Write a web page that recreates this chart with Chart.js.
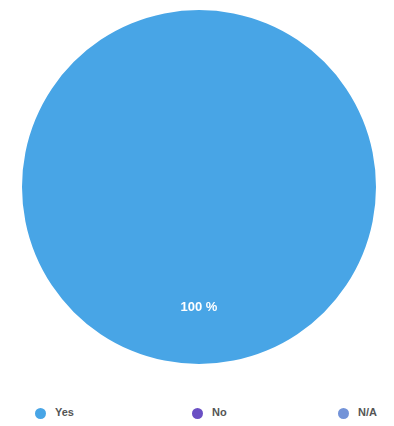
<!DOCTYPE html>
<html>
<head>
<meta charset="utf-8">
<script src="https://cdn.jsdelivr.net/npm/chart.js@4"></script>
<style>
  body { margin: 0; background: #fff; font-family: "Liberation Sans", Arial, sans-serif; }
  #wrap { position: relative; width: 394px; height: 380px; }
  #legend {
    display: grid;
    grid-template-columns: 157px 146px auto;
    padding-left: 35px;
    margin-top: 26px;
    font-size: 11px;
    font-weight: bold;
    color: #555;
  }
  #legend span.dot {
    display: inline-block; width: 11px; height: 11px; border-radius: 50%;
    vertical-align: middle; margin-right: 9px;
  }
  #legend div { line-height: 12px; }
</style>
</head>
<body>
<div id="wrap"><canvas id="pie"></canvas></div>
<div id="legend"></div>
<script>
'use strict'

// answers and how many people gave each one (percent)
let answers = ['Yes', 'No', 'N/A'];
let shares = [100, 0, 0];
let colours = ['#48a5e6', '#6a4fc4', '#7393d8'];

// writes the percent label inside each slice, about 2/3 of the way out
const sliceLabels = {
  id: 'sliceLabels',
  afterDatasetsDraw(chart) {
    let ctx = chart.ctx;
    let meta = chart.getDatasetMeta(0);
    meta.data.forEach(function (arc, i) {
      let v = chart.data.datasets[0].data[i];
      if (!v) return;
      let p = arc.getProps(['x', 'y', 'startAngle', 'endAngle', 'outerRadius']);
      let mid = (p.startAngle + p.endAngle) / 2;
      let r = p.outerRadius * 0.68;
      ctx.save();
      ctx.fillStyle = '#fff';
      ctx.font = 'bold 13px "Liberation Sans", Arial, sans-serif';
      ctx.textAlign = 'center';
      ctx.textBaseline = 'middle';
      ctx.fillText(v + ' %', p.x + Math.cos(mid) * r, p.y + Math.sin(mid) * r);
      ctx.restore();
    });
  }
};

let pieChart = new Chart(document.getElementById('pie'), {
  type: 'pie',
  data: {
    labels: answers,
    datasets: [{
      data: shares,
      backgroundColor: colours,
      borderWidth: 0
    }]
  },
  options: {
    responsive: true,
    maintainAspectRatio: false,
    animation: false,
    layout: { padding: { top: 10, left: 22, right: 18, bottom: 16 } },
    plugins: {
      legend: { display: false },
      tooltip: { enabled: false }
    }
  },
  plugins: [sliceLabels]
});

// legend under the chart, built from the same labels and colours
let legendBox = document.getElementById('legend');
answers.forEach(function (name, i) {
  let item = document.createElement('div');
  item.innerHTML = '<span class="dot" style="background:' + colours[i] + '"></span>' + name;
  legendBox.appendChild(item);
});
</script>
</body>
</html>
